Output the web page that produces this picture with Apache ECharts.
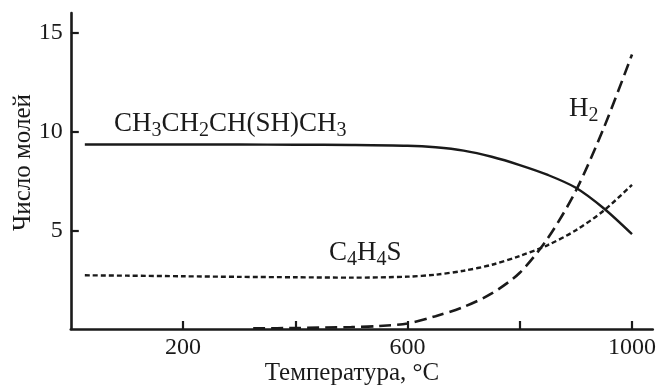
<!DOCTYPE html>
<html>
<head>
<meta charset="utf-8">
<script src="https://cdn.jsdelivr.net/npm/echarts@6/dist/echarts.min.js"></script>
<style>
html,body{margin:0;padding:0;background:#fff;}
#chart{width:659px;height:386px;}
</style>
</head>
<body>
<div id="chart"></div>
<script>
// Temperature grid (°C) for the butanethiol and thiophene curves
const temps = [25, 100, 200, 300, 400, 500, 600, 650, 700, 750, 800, 850, 900, 950, 1000];
// CH3CH2CH(SH)CH3 (solid)
const butanethiol = [9.34, 9.34, 9.34, 9.34, 9.33, 9.32, 9.28, 9.2, 9.03, 8.72, 8.3, 7.8, 7.15, 6.1, 4.8];
// C4H4S (short dashes)
const thiophene = [2.72, 2.7, 2.67, 2.64, 2.62, 2.6, 2.65, 2.75, 2.95, 3.25, 3.7, 4.25, 5.0, 6.0, 7.3];
// H2 (long dashes)
const h2Temps = [325, 400, 500, 550, 600, 650, 700, 750, 800, 850, 900, 950, 1000];
const h2 = [0.03, 0.05, 0.1, 0.15, 0.28, 0.65, 1.12, 1.8, 2.85, 4.6, 7.0, 10.2, 13.9];
// Axis ticks and labels
const xTicks = [200, 400, 600, 800, 1000];
const xLabels = [200, 600, 1000];
const yTicks = [5, 10, 15];
const yLabels = [5, 10, 15];
// Curve labels: [text, isSubscript]
const labelButanethiol = [['CH', 0], ['3', 1], ['CH', 0], ['2', 1], ['CH(SH)CH', 0], ['3', 1]];
const labelThiophene = [['C', 0], ['4', 1], ['H', 0], ['4', 1], ['S', 0]];
const labelH2 = [['H', 0], ['2', 1]];

const FONT = 'Liberation Serif';
const INK = '#1a1a1a';
const MAIN_SIZE = 27, SUB_SIZE = 20, SUB_DROP = 7;

const chart = echarts.init(document.getElementById('chart'), null, {renderer: 'canvas'});

function pairs(xs, ys) { return xs.map((x, i) => [x, ys[i]]); }

const measureCtx = document.createElement('canvas').getContext('2d');
function formula(parts, x0, yMid) {
  const els = [];
  let x = x0;
  parts.forEach(([t, sub]) => {
    const size = sub ? SUB_SIZE : MAIN_SIZE;
    measureCtx.font = size + 'px "' + FONT + '"';
    els.push({
      type: 'text', x: x, y: sub ? yMid + SUB_DROP : yMid,
      style: {text: t, fontFamily: FONT, fontSize: size, fill: INK, align: 'left', verticalAlign: 'middle'}
    });
    x += measureCtx.measureText(t).width;
  });
  return els;
}

const option = {
  animation: false,
  backgroundColor: '#ffffff',
  grid: {left: 70.8, right: 5, top: 13, bottom: 57, containLabel: false},
  xAxis: {
    type: 'value', min: 0, max: 1037,
    splitLine: {show: false},
    axisLine: {lineStyle: {color: INK, width: 2.6}},
    axisTick: {inside: true, length: 8, lineStyle: {color: INK, width: 2.2}, customValues: xTicks},
    axisLabel: {customValues: xLabels, margin: 7, fontFamily: FONT, fontSize: 24, color: INK,
      formatter: v => String(v)}
  },
  yAxis: {
    type: 'value', min: 0, max: 16,
    splitLine: {show: false},
    axisLine: {lineStyle: {color: INK, width: 2.6}},
    axisTick: {inside: true, length: 8, lineStyle: {color: INK, width: 2.2}, customValues: yTicks},
    axisLabel: {customValues: yLabels, margin: 8, fontFamily: FONT, fontSize: 24, color: INK,
      formatter: v => String(v)}
  },
  series: [
    {
      type: 'line', data: pairs(temps, butanethiol), smooth: 0.3, symbol: 'none',
      lineStyle: {color: INK, width: 2.4, type: 'solid'}
    },
    {
      type: 'line', data: pairs(temps, thiophene), smooth: 0.3, symbol: 'none',
      lineStyle: {color: INK, width: 2.4, type: [5, 3]}
    },
    {
      type: 'line', data: pairs(h2Temps, h2), smooth: 0.3, symbol: 'none',
      lineStyle: {color: INK, width: 2.6, type: [12, 6]}
    }
  ],
  graphic: [
    ...formula(labelButanethiol, 114, 123.5),
    ...formula(labelThiophene, 329, 252.5),
    ...formula(labelH2, 569, 109),
    {
      type: 'text', x: 352, y: 373.5,
      style: {text: 'Температура, °C', fontFamily: FONT, fontSize: 25, fill: INK, align: 'center', verticalAlign: 'middle'}
    },
    {
      type: 'text', x: 23, y: 162.5, rotation: Math.PI / 2,
      style: {text: 'Число молей', fontFamily: FONT, fontSize: 25, fill: INK, align: 'center', verticalAlign: 'middle'}
    }
  ]
};
chart.setOption(option);
</script>
</body>
</html>
